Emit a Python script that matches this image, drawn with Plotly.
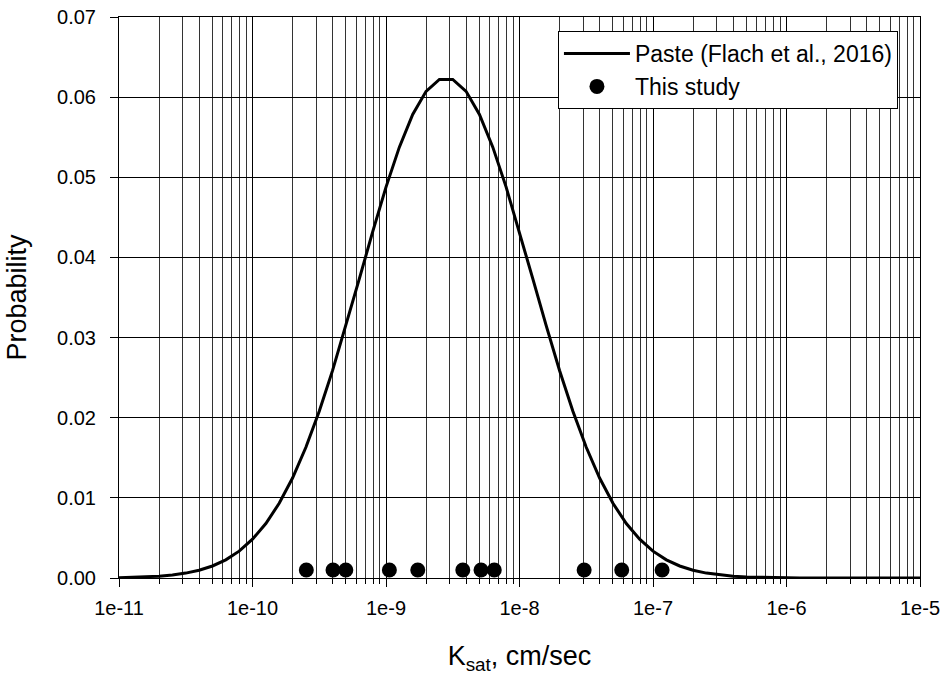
import plotly.graph_objects as go

# Curve: log10(Ksat) sampled every 0.1 decade, probability per bin
curve_log10_k = [-11.0, -10.9, -10.8, -10.7, -10.6, -10.5, -10.4, -10.3, -10.2, -10.1,
                 -10.0, -9.9, -9.8, -9.7, -9.6, -9.5, -9.4, -9.3, -9.2, -9.1,
                 -9.0, -8.9, -8.8, -8.7, -8.6, -8.5, -8.4, -8.3, -8.2, -8.1,
                 -8.0, -7.9, -7.8, -7.7, -7.6, -7.5, -7.4, -7.3, -7.2, -7.1,
                 -7.0, -6.9, -6.8, -6.7, -6.6, -6.5, -6.4, -6.3, -6.2, -6.1,
                 -6.0, -5.9, -5.8, -5.7, -5.6, -5.5, -5.4, -5.3, -5.2, -5.1, -5.0]
curve_prob = [0.00004, 0.00008, 0.00013, 0.00023, 0.00038, 0.00061, 0.00097, 0.00150, 0.00227, 0.00335,
              0.00484, 0.00680, 0.00932, 0.01248, 0.01631, 0.02081, 0.02590, 0.03148, 0.03732, 0.04318,
              0.04877, 0.05376, 0.05783, 0.06072, 0.06221, 0.06221, 0.06072, 0.05783, 0.05376, 0.04877,
              0.04318, 0.03732, 0.03148, 0.02590, 0.02081, 0.01631, 0.01248, 0.00932, 0.00680, 0.00484,
              0.00335, 0.00227, 0.00150, 0.00097, 0.00061, 0.00038, 0.00023, 0.00013, 0.00008, 0.00004,
              0.00002, 0.00001, 0.00001, 0.0, 0.0, 0.0, 0.0, 0.0, 0.0, 0.0, 0.0]

# Measured samples (this study)
study_k = [2.53e-10, 4.01e-10, 5.0e-10, 1.06e-9, 1.73e-9, 3.76e-9, 5.15e-9, 6.47e-9,
           3.05e-8, 5.83e-8, 1.17e-7]
study_prob = [0.001] * len(study_k)

x_tick_vals = [1e-11, 1e-10, 1e-9, 1e-8, 1e-7, 1e-6, 1e-5]
x_tick_text = ["1e-11", "1e-10", "1e-9", "1e-8", "1e-7", "1e-6", "1e-5"]
minor_mult = [2, 3, 4, 5, 6, 7, 8, 9]

curve_k = [10 ** v for v in curve_log10_k]
minor_vals = [m * d for d in x_tick_vals[:-1] for m in minor_mult]

FONT = "Liberation Sans, Arial, sans-serif"

fig = go.Figure()
fig.add_trace(go.Scatter(x=curve_k, y=curve_prob, mode="lines",
                         line=dict(color="black", width=3),
                         name="Paste (Flach et al., 2016)"))
fig.add_trace(go.Scatter(x=study_k, y=study_prob, mode="markers",
                         marker=dict(color="black", size=15),
                         name="This study"))

fig.update_layout(
    width=946, height=677,
    margin=dict(l=119, r=26, t=17, b=99),
    paper_bgcolor="white", plot_bgcolor="white",
    font=dict(family=FONT, color="black", size=20),
    showlegend=True,
    legend=dict(x=0.548, y=0.975, xanchor="left", yanchor="top",
                bgcolor="white", bordercolor="black", borderwidth=1,
                font=dict(size=23), tracegroupgap=0, itemwidth=66),
)
fig.update_xaxes(
    type="log", range=[-11, -5], automargin=False,
    tickmode="array", tickvals=x_tick_vals, ticktext=x_tick_text,
    ticks="outside", ticklen=8, tickcolor="black", tickwidth=1,
    ticklabelstandoff=4,
    showgrid=True, gridcolor="black", gridwidth=1,
    showline=True, linecolor="black", linewidth=1, mirror=True,
    minor=dict(tickmode="array", tickvals=minor_vals, ticks="outside", ticklen=5,
               tickcolor="black", showgrid=True, gridcolor="#333333", gridwidth=1),
    title=dict(text="K<sub>sat</sub>, cm/sec", font=dict(size=27), standoff=28),
    tickfont=dict(size=20),
)
fig.update_yaxes(
    range=[0, 0.07], dtick=0.01, tickformat=".2f", automargin=False,
    ticks="outside", ticklen=8, tickcolor="black", tickwidth=1,
    ticklabelstandoff=10,
    showgrid=True, gridcolor="black", gridwidth=1, zeroline=False,
    showline=True, linecolor="black", linewidth=1, mirror=True,
    title=dict(text="Probability", font=dict(size=27), standoff=22),
    tickfont=dict(size=20),
)

fig.write_html("out.html")
